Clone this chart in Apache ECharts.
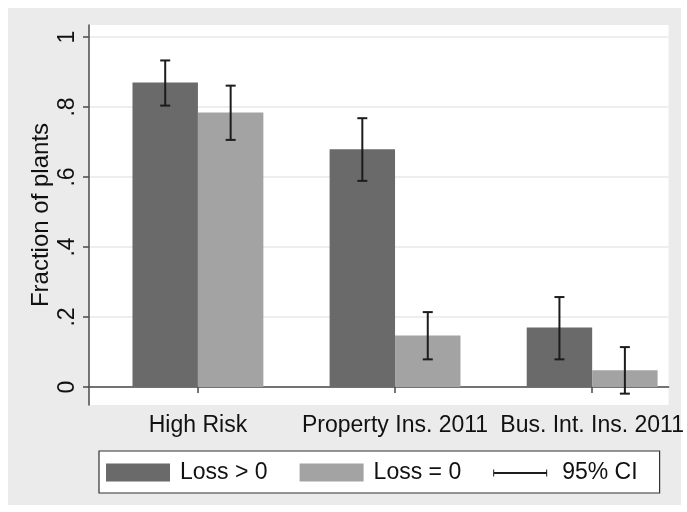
<!DOCTYPE html>
<html>
<head>
<meta charset="utf-8">
<script src="https://cdn.jsdelivr.net/npm/echarts@6/dist/echarts.min.js"></script>
<style>
html,body{margin:0;padding:0;background:#fff;}
#c{width:687px;height:512px;}
</style>
</head>
<body>
<div id="c"></div>
<script>
const categories = ['High Risk', 'Property Ins. 2011', 'Bus. Int. Ins. 2011'];
const lossPos = [0.870, 0.679, 0.170];
const lossPosLo = [0.804, 0.589, 0.079];
const lossPosHi = [0.933, 0.768, 0.257];
const lossZero = [0.784, 0.147, 0.048];
const lossZeroLo = [0.706, 0.079, -0.019];
const lossZeroHi = [0.861, 0.214, 0.114];
const yTickValues = [0, 0.2, 0.4, 0.6, 0.8, 1];
const yTickLabels = ['0', '.2', '.4', '.6', '.8', '1'];
const seriesNames = ['Loss > 0', 'Loss = 0', '95% CI'];

const FONT = '"Liberation Sans", Arial, Helvetica, sans-serif';
const HALF = 0.332;          // bar width in category units
const DARK = '#6a6a6a', LIGHT = '#a3a3a3', ERR = '#1c1c1c';

const catX = categories.map((c, i) => i + 1);

function barRender(side) {
  return function (params, api) {
    const x = api.value(0), v = api.value(1);
    const x0 = side < 0 ? x - HALF : x;
    const x1 = side < 0 ? x : x + HALF;
    const p0 = api.coord([x0, v]);
    const p1 = api.coord([x1, 0]);
    return {
      type: 'rect',
      shape: { x: p0[0], y: p0[1], width: p1[0] - p0[0], height: p1[1] - p0[1] },
      style: { fill: api.visual('color') }
    };
  };
}

const ciData = [];
catX.forEach((x, i) => {
  ciData.push([x, lossPosLo[i], lossPosHi[i], 0]);
  ciData.push([x, lossZeroLo[i], lossZeroHi[i], 1]);
});

const chart = echarts.init(document.getElementById('c'), null, { renderer: 'canvas' });
chart.setOption({
  animation: false,
  backgroundColor: '#ffffff',
  textStyle: { fontFamily: FONT },
  graphic: [{
    type: 'rect', z: -10, silent: true,
    shape: { x: 8, y: 8, width: 673, height: 497 },
    style: { fill: '#ebebeb' }
  }],
  grid: {
    left: 89, right: 18, top: 25, bottom: 107,
    show: true, backgroundColor: '#ffffff', borderWidth: 0
  },
  xAxis: {
    type: 'value',
    min: 1 - 0.5526, max: 3 + 0.3878,
    axisLine: { show: true, lineStyle: { color: '#4a4a4a', width: 1.5 } },
    axisTick: { show: true, length: 6, customValues: catX, lineStyle: { color: '#4a4a4a', width: 1.5 } },
    axisLabel: {
      customValues: catX,
      margin: 9,
      fontSize: 23, color: '#111', fontFamily: FONT,
      formatter: v => categories[Math.round(v) - 1] || ''
    },
    splitLine: { show: false }
  },
  yAxis: {
    type: 'value',
    min: -(405 - 387) / 350, max: 1 + (37 - 25) / 350,
    name: 'Fraction of plants',
    nameLocation: 'middle', nameRotate: 90, nameGap: 36,
    nameMoveOverlap: false,
    nameTextStyle: { fontSize: 24, color: '#111', fontFamily: FONT },
    axisLine: { show: true, lineStyle: { color: '#4a4a4a', width: 1.5 } },
    axisTick: { show: true, length: 6, customValues: yTickValues, lineStyle: { color: '#4a4a4a', width: 1.5 } },
    axisLabel: {
      customValues: yTickValues,
      rotate: 90, margin: 10,
      fontSize: 23, color: '#111', fontFamily: FONT,
      formatter: v => yTickLabels[Math.round(v * 5)]
    },
    splitLine: { show: true, lineStyle: { color: '#e9e9e9', width: 1.5 } }
  },
  legend: {
    left: 99, top: 451,
    orient: 'horizontal',
    itemWidth: 64, itemHeight: 18, itemGap: 32,
    padding: [10, 22, 9, 7],
    borderColor: '#333', borderWidth: 1.2,
    backgroundColor: '#ffffff',
    textStyle: { fontSize: 23, color: '#111', fontFamily: FONT, lineHeight: 22, padding: [0, 0, 0, 5] },
    data: [
      { name: seriesNames[0], icon: 'rect' },
      { name: seriesNames[1], icon: 'rect' },
      { name: seriesNames[2], icon: 'path://M27,0h0.01v0.01h-0.01zM27,17.99h0.01v0.01h-0.01zM0,6h1v2.5h52v-2.5h1v7h-1v-2.5h-52v2.5h-1z' }
    ]
  },
  series: [
    {
      name: seriesNames[0], type: 'custom', z: 2,
      itemStyle: { color: DARK },
      renderItem: barRender(-1),
      encode: { x: 0, y: 1 },
      data: catX.map((x, i) => [x, lossPos[i]])
    },
    {
      name: seriesNames[1], type: 'custom', z: 2,
      itemStyle: { color: LIGHT },
      renderItem: barRender(1),
      encode: { x: 0, y: 1 },
      data: catX.map((x, i) => [x, lossZero[i]])
    },
    {
      name: seriesNames[2], type: 'custom', z: 3,
      itemStyle: { color: ERR },
      encode: { x: 0, y: [1, 2] },
      renderItem: function (params, api) {
        const g = api.value(3);
        const xc = api.value(0) + (g === 0 ? -HALF / 2 : HALF / 2);
        const lo = api.coord([xc, api.value(1)]);
        const hi = api.coord([xc, api.value(2)]);
        const cap = 5;
        const st = { stroke: ERR, lineWidth: 2 };
        return {
          type: 'group',
          children: [
            { type: 'line', shape: { x1: lo[0], y1: lo[1], x2: hi[0], y2: hi[1] }, style: st },
            { type: 'line', shape: { x1: hi[0] - cap, y1: hi[1], x2: hi[0] + cap, y2: hi[1] }, style: st },
            { type: 'line', shape: { x1: lo[0] - cap, y1: lo[1], x2: lo[0] + cap, y2: lo[1] }, style: st }
          ]
        };
      },
      data: ciData
    }
  ]
});
</script>
</body>
</html>
